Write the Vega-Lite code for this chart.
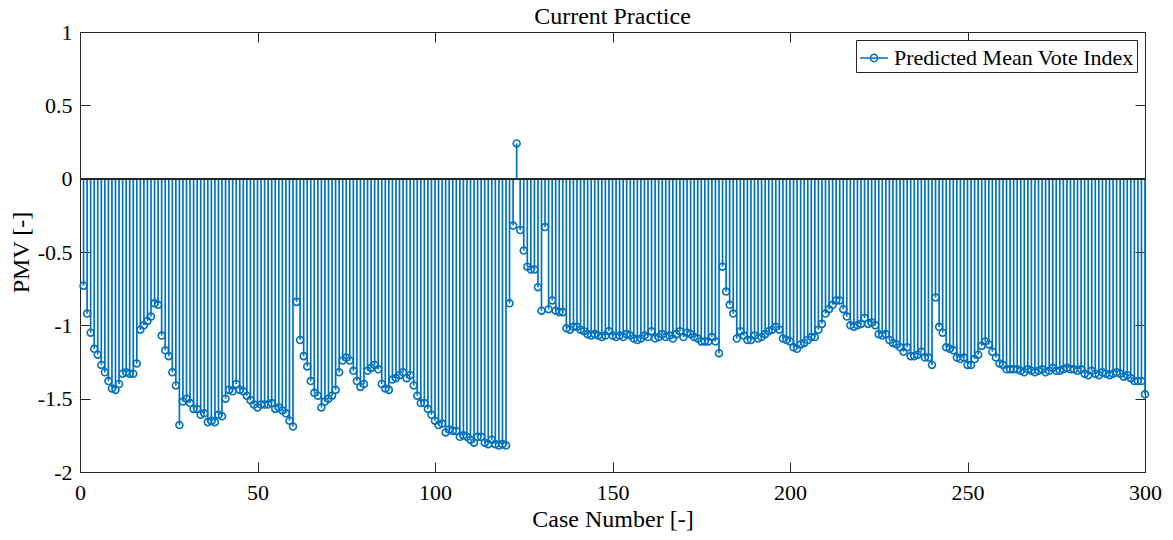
{
  "$schema": "https://vega.github.io/schema/vega-lite/v6.json",
  "autosize": {"type": "none"},
  "width": 1065,
  "height": 440,
  "padding": {"left": 80, "top": 32, "right": 28, "bottom": 68},
  "background": "white",
  "title": {"text": "Current Practice", "fontSize": 24, "font": "Liberation Serif", "fontWeight": "normal", "color": "#000000", "offset": -8},
  "config": {
    "view": {"stroke": null},
    "font": "Liberation Serif",
    "axis": {
      "domainColor": "#262626", "domainWidth": 1, "tickColor": "#262626", "tickWidth": 1,
      "labelFont": "Liberation Serif", "labelFontSize": 22, "labelColor": "#000000", "labelFlush": false,
      "titleFont": "Liberation Serif", "titleFontSize": 24, "titleFontWeight": "normal", "titleColor": "#000000",
      "grid": false
    },
    "legend": {
      "orient": "top-right", "offset": 8, "strokeColor": "#262626", "fillColor": "white",
      "padding": 3, "labelFont": "Liberation Serif", "labelFontSize": 22, "labelColor": "#000000",
      "labelLimit": 0, "title": null
    }
  },
  "data": {"values": [
    {"case":1,"pmv":-0.73},{"case":2,"pmv":-0.92},{"case":3,"pmv":-1.05},{"case":4,"pmv":-1.16},{"case":5,"pmv":-1.20},
    {"case":6,"pmv":-1.27},{"case":7,"pmv":-1.32},{"case":8,"pmv":-1.38},{"case":9,"pmv":-1.43},{"case":10,"pmv":-1.44},
    {"case":11,"pmv":-1.40},{"case":12,"pmv":-1.33},{"case":13,"pmv":-1.32},{"case":14,"pmv":-1.33},{"case":15,"pmv":-1.33},
    {"case":16,"pmv":-1.26},{"case":17,"pmv":-1.03},{"case":18,"pmv":-1.00},{"case":19,"pmv":-0.97},{"case":20,"pmv":-0.94},
    {"case":21,"pmv":-0.85},{"case":22,"pmv":-0.86},{"case":23,"pmv":-1.07},{"case":24,"pmv":-1.17},{"case":25,"pmv":-1.21},
    {"case":26,"pmv":-1.32},{"case":27,"pmv":-1.41},{"case":28,"pmv":-1.68},{"case":29,"pmv":-1.52},{"case":30,"pmv":-1.50},
    {"case":31,"pmv":-1.53},{"case":32,"pmv":-1.57},{"case":33,"pmv":-1.57},{"case":34,"pmv":-1.61},{"case":35,"pmv":-1.60},
    {"case":36,"pmv":-1.66},{"case":37,"pmv":-1.65},{"case":38,"pmv":-1.66},{"case":39,"pmv":-1.61},{"case":40,"pmv":-1.62},
    {"case":41,"pmv":-1.50},{"case":42,"pmv":-1.44},{"case":43,"pmv":-1.45},{"case":44,"pmv":-1.40},{"case":45,"pmv":-1.44},
    {"case":46,"pmv":-1.45},{"case":47,"pmv":-1.48},{"case":48,"pmv":-1.51},{"case":49,"pmv":-1.54},{"case":50,"pmv":-1.56},
    {"case":51,"pmv":-1.54},{"case":52,"pmv":-1.54},{"case":53,"pmv":-1.54},{"case":54,"pmv":-1.53},{"case":55,"pmv":-1.57},
    {"case":56,"pmv":-1.56},{"case":57,"pmv":-1.58},{"case":58,"pmv":-1.60},{"case":59,"pmv":-1.65},{"case":60,"pmv":-1.69},
    {"case":61,"pmv":-0.84},{"case":62,"pmv":-1.10},{"case":63,"pmv":-1.21},{"case":64,"pmv":-1.28},{"case":65,"pmv":-1.38},
    {"case":66,"pmv":-1.46},{"case":67,"pmv":-1.48},{"case":68,"pmv":-1.56},{"case":69,"pmv":-1.52},{"case":70,"pmv":-1.50},
    {"case":71,"pmv":-1.48},{"case":72,"pmv":-1.44},{"case":73,"pmv":-1.32},{"case":74,"pmv":-1.24},{"case":75,"pmv":-1.22},
    {"case":76,"pmv":-1.24},{"case":77,"pmv":-1.31},{"case":78,"pmv":-1.38},{"case":79,"pmv":-1.42},{"case":80,"pmv":-1.40},
    {"case":81,"pmv":-1.31},{"case":82,"pmv":-1.29},{"case":83,"pmv":-1.27},{"case":84,"pmv":-1.30},{"case":85,"pmv":-1.40},
    {"case":86,"pmv":-1.43},{"case":87,"pmv":-1.44},{"case":88,"pmv":-1.37},{"case":89,"pmv":-1.36},{"case":90,"pmv":-1.34},
    {"case":91,"pmv":-1.32},{"case":92,"pmv":-1.36},{"case":93,"pmv":-1.34},{"case":94,"pmv":-1.41},{"case":95,"pmv":-1.48},
    {"case":96,"pmv":-1.53},{"case":97,"pmv":-1.53},{"case":98,"pmv":-1.57},{"case":99,"pmv":-1.61},{"case":100,"pmv":-1.65},
    {"case":101,"pmv":-1.68},{"case":102,"pmv":-1.67},{"case":103,"pmv":-1.73},{"case":104,"pmv":-1.71},{"case":105,"pmv":-1.72},
    {"case":106,"pmv":-1.72},{"case":107,"pmv":-1.76},{"case":108,"pmv":-1.75},{"case":109,"pmv":-1.76},{"case":110,"pmv":-1.78},
    {"case":111,"pmv":-1.80},{"case":112,"pmv":-1.76},{"case":113,"pmv":-1.76},{"case":114,"pmv":-1.80},{"case":115,"pmv":-1.81},
    {"case":116,"pmv":-1.78},{"case":117,"pmv":-1.81},{"case":118,"pmv":-1.82},{"case":119,"pmv":-1.81},{"case":120,"pmv":-1.82},
    {"case":121,"pmv":-0.85},{"case":122,"pmv":-0.32},{"case":123,"pmv":0.24},{"case":124,"pmv":-0.35},{"case":125,"pmv":-0.49},
    {"case":126,"pmv":-0.60},{"case":127,"pmv":-0.62},{"case":128,"pmv":-0.62},{"case":129,"pmv":-0.74},{"case":130,"pmv":-0.90},
    {"case":131,"pmv":-0.33},{"case":132,"pmv":-0.89},{"case":133,"pmv":-0.83},{"case":134,"pmv":-0.90},{"case":135,"pmv":-0.91},
    {"case":136,"pmv":-0.91},{"case":137,"pmv":-1.02},{"case":138,"pmv":-1.03},{"case":139,"pmv":-1.01},{"case":140,"pmv":-1.01},
    {"case":141,"pmv":-1.03},{"case":142,"pmv":-1.04},{"case":143,"pmv":-1.06},{"case":144,"pmv":-1.07},{"case":145,"pmv":-1.06},
    {"case":146,"pmv":-1.07},{"case":147,"pmv":-1.08},{"case":148,"pmv":-1.07},{"case":149,"pmv":-1.04},{"case":150,"pmv":-1.07},
    {"case":151,"pmv":-1.08},{"case":152,"pmv":-1.07},{"case":153,"pmv":-1.08},{"case":154,"pmv":-1.06},{"case":155,"pmv":-1.07},
    {"case":156,"pmv":-1.09},{"case":157,"pmv":-1.10},{"case":158,"pmv":-1.09},{"case":159,"pmv":-1.07},{"case":160,"pmv":-1.08},
    {"case":161,"pmv":-1.04},{"case":162,"pmv":-1.09},{"case":163,"pmv":-1.08},{"case":164,"pmv":-1.06},{"case":165,"pmv":-1.08},
    {"case":166,"pmv":-1.07},{"case":167,"pmv":-1.09},{"case":168,"pmv":-1.06},{"case":169,"pmv":-1.04},{"case":170,"pmv":-1.08},
    {"case":171,"pmv":-1.05},{"case":172,"pmv":-1.06},{"case":173,"pmv":-1.08},{"case":174,"pmv":-1.09},{"case":175,"pmv":-1.11},
    {"case":176,"pmv":-1.11},{"case":177,"pmv":-1.11},{"case":178,"pmv":-1.08},{"case":179,"pmv":-1.11},{"case":180,"pmv":-1.19},
    {"case":181,"pmv":-0.60},{"case":182,"pmv":-0.77},{"case":183,"pmv":-0.86},{"case":184,"pmv":-0.92},{"case":185,"pmv":-1.09},
    {"case":186,"pmv":-1.04},{"case":187,"pmv":-1.07},{"case":188,"pmv":-1.10},{"case":189,"pmv":-1.10},{"case":190,"pmv":-1.07},
    {"case":191,"pmv":-1.09},{"case":192,"pmv":-1.08},{"case":193,"pmv":-1.06},{"case":194,"pmv":-1.04},{"case":195,"pmv":-1.03},
    {"case":196,"pmv":-1.01},{"case":197,"pmv":-1.03},{"case":198,"pmv":-1.09},{"case":199,"pmv":-1.10},{"case":200,"pmv":-1.11},
    {"case":201,"pmv":-1.15},{"case":202,"pmv":-1.16},{"case":203,"pmv":-1.13},{"case":204,"pmv":-1.12},{"case":205,"pmv":-1.10},
    {"case":206,"pmv":-1.08},{"case":207,"pmv":-1.08},{"case":208,"pmv":-1.03},{"case":209,"pmv":-0.99},{"case":210,"pmv":-0.92},
    {"case":211,"pmv":-0.89},{"case":212,"pmv":-0.86},{"case":213,"pmv":-0.83},{"case":214,"pmv":-0.83},{"case":215,"pmv":-0.89},
    {"case":216,"pmv":-0.94},{"case":217,"pmv":-1.00},{"case":218,"pmv":-1.01},{"case":219,"pmv":-1.00},{"case":220,"pmv":-0.99},
    {"case":221,"pmv":-0.95},{"case":222,"pmv":-0.99},{"case":223,"pmv":-0.98},{"case":224,"pmv":-1.00},{"case":225,"pmv":-1.06},
    {"case":226,"pmv":-1.07},{"case":227,"pmv":-1.06},{"case":228,"pmv":-1.10},{"case":229,"pmv":-1.12},{"case":230,"pmv":-1.13},
    {"case":231,"pmv":-1.15},{"case":232,"pmv":-1.18},{"case":233,"pmv":-1.15},{"case":234,"pmv":-1.21},{"case":235,"pmv":-1.21},
    {"case":236,"pmv":-1.20},{"case":237,"pmv":-1.18},{"case":238,"pmv":-1.22},{"case":239,"pmv":-1.22},{"case":240,"pmv":-1.27},
    {"case":241,"pmv":-0.81},{"case":242,"pmv":-1.01},{"case":243,"pmv":-1.05},{"case":244,"pmv":-1.15},{"case":245,"pmv":-1.16},
    {"case":246,"pmv":-1.17},{"case":247,"pmv":-1.22},{"case":248,"pmv":-1.23},{"case":249,"pmv":-1.22},{"case":250,"pmv":-1.27},
    {"case":251,"pmv":-1.27},{"case":252,"pmv":-1.23},{"case":253,"pmv":-1.20},{"case":254,"pmv":-1.14},{"case":255,"pmv":-1.11},
    {"case":256,"pmv":-1.13},{"case":257,"pmv":-1.18},{"case":258,"pmv":-1.22},{"case":259,"pmv":-1.26},{"case":260,"pmv":-1.27},
    {"case":261,"pmv":-1.30},{"case":262,"pmv":-1.30},{"case":263,"pmv":-1.30},{"case":264,"pmv":-1.30},{"case":265,"pmv":-1.31},
    {"case":266,"pmv":-1.32},{"case":267,"pmv":-1.30},{"case":268,"pmv":-1.31},{"case":269,"pmv":-1.32},{"case":270,"pmv":-1.31},
    {"case":271,"pmv":-1.30},{"case":272,"pmv":-1.32},{"case":273,"pmv":-1.31},{"case":274,"pmv":-1.29},{"case":275,"pmv":-1.31},
    {"case":276,"pmv":-1.31},{"case":277,"pmv":-1.30},{"case":278,"pmv":-1.29},{"case":279,"pmv":-1.30},{"case":280,"pmv":-1.30},
    {"case":281,"pmv":-1.31},{"case":282,"pmv":-1.30},{"case":283,"pmv":-1.33},{"case":284,"pmv":-1.34},{"case":285,"pmv":-1.31},
    {"case":286,"pmv":-1.33},{"case":287,"pmv":-1.34},{"case":288,"pmv":-1.32},{"case":289,"pmv":-1.33},{"case":290,"pmv":-1.34},
    {"case":291,"pmv":-1.33},{"case":292,"pmv":-1.32},{"case":293,"pmv":-1.33},{"case":294,"pmv":-1.35},{"case":295,"pmv":-1.34},
    {"case":296,"pmv":-1.36},{"case":297,"pmv":-1.38},{"case":298,"pmv":-1.38},{"case":299,"pmv":-1.38},{"case":300,"pmv":-1.47}
  ]},
  "layer": [
    {
      "mark": {"type": "rule", "strokeWidth": 1.7},
      "encoding": {
        "x": {"field": "case", "type": "quantitative",
              "scale": {"domain": [0, 300], "nice": false, "zero": false},
              "axis": {"orient": "bottom", "values": [0, 50, 100, 150, 200, 250, 300], "tickSize": -10, "labelPadding": 20,
                       "labelExpr": "'' + datum.value", "title": "Case Number [-]", "titlePadding": 4}},
        "y": {"field": "pmv", "type": "quantitative",
              "scale": {"domain": [-2, 1], "nice": false, "zero": false},
              "axis": {"orient": "left", "values": [-2, -1.5, -1, -0.5, 0, 0.5, 1], "tickSize": -10, "labelPadding": 18,
                       "labelExpr": "'' + datum.value", "title": "PMV [-]", "titlePadding": 4}},
        "y2": {"datum": 0},
        "color": {"datum": "Predicted Mean Vote Index", "type": "nominal",
                  "scale": {"range": ["#0072BD"]},
                  "legend": {"symbolType": "M -1 0 L 1 0 M 0.26 0 A 0.26 0.26 0 1 1 -0.26 0 A 0.26 0.26 0 1 1 0.26 0",
                             "symbolSize": 784, "symbolStrokeWidth": 1.5, "symbolFillColor": "transparent",
                             "symbolStrokeColor": "#0072BD", "labelOffset": 5}}
      }
    },
    {
      "mark": {"type": "rule", "color": "#262626", "strokeWidth": 1.2},
      "encoding": {"y": {"datum": 0, "axis": null}}
    },
    {
      "mark": {"type": "point", "shape": "circle", "filled": false, "color": "#0072BD", "strokeWidth": 1.6, "size": 48, "opacity": 1},
      "encoding": {
        "x": {"field": "case", "type": "quantitative",
              "axis": {"orient": "top", "values": [0, 50, 100, 150, 200, 250, 300], "tickSize": -10, "labels": false, "title": null}},
        "y": {"field": "pmv", "type": "quantitative",
              "axis": {"orient": "right", "values": [-2, -1.5, -1, -0.5, 0, 0.5, 1], "tickSize": -10, "labels": false, "title": null}}
      }
    }
  ],
  "resolve": {"axis": {"x": "independent", "y": "independent"}}
}
